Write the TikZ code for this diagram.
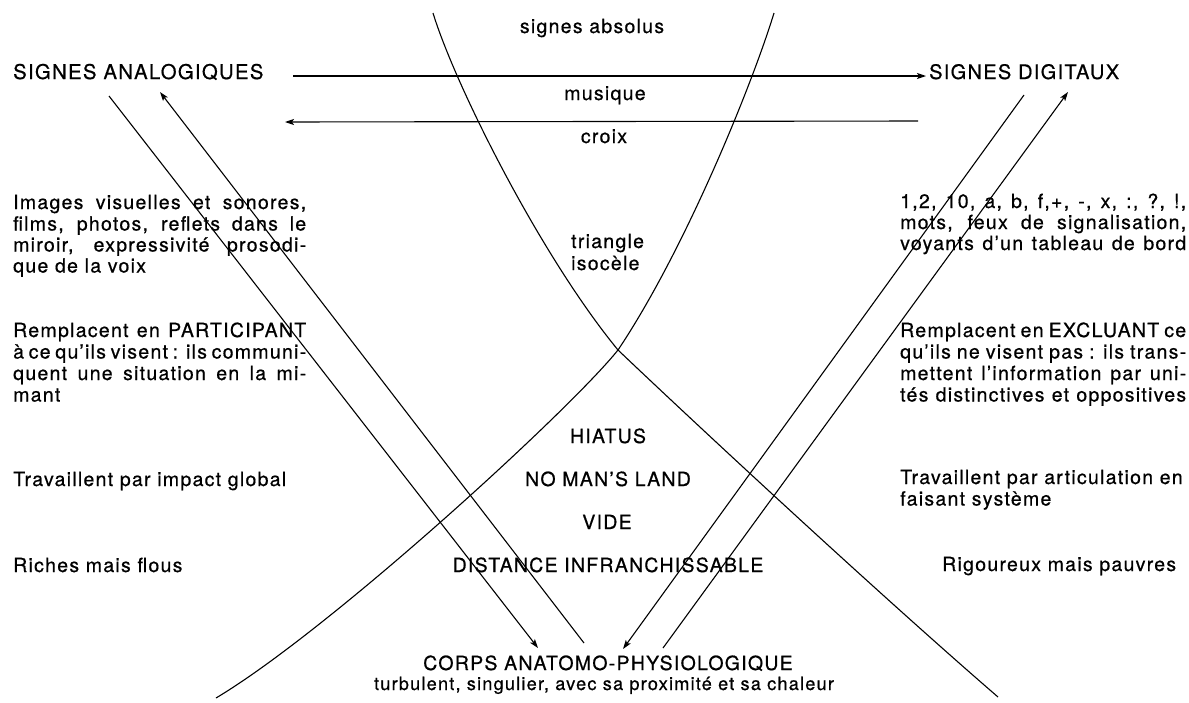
\documentclass[tikz,border=0pt]{standalone}
\usepackage{fontspec}
\setmainfont[LetterSpace=6.5,FakeBold=0.6]{TeX Gyre Heros}
\usetikzlibrary{arrows.meta}
\newcommand\jleft[1]{\makebox[293pt][s]{#1}}
\newcommand\jright[1]{\makebox[286pt][s]{#1}}
\begin{document}
\begin{tikzpicture}[x=1pt,y=-1pt,
  txt/.style={inner sep=0pt, anchor=base west, font=\fontsize{19.5}{21.5}\selectfont},
  ctxt/.style={txt, anchor=base},
  ln/.style={line width=1.1pt},
  arr/.style={ln, -{Stealth[length=9pt,width=6pt,inset=2pt]}}]
\useasboundingbox (0,0) rectangle (1189,702);

% ---- central texts
\node[ctxt] (abs) at (592,33) {signes absolus};
\node[ctxt] (mus) at (605,100) {musique};
\node[ctxt] (cro) at (604,143) {croix};
\node[txt] (tri) at (571,248) {triangle};
\node[txt] (iso) at (571,270) {isocèle};
\node[ctxt] (hia) at (608,443) {HIATUS};
\node[ctxt] (nml) at (608,486) {NO MAN'S LAND};
\node[ctxt] (vid) at (607,529) {VIDE};
\node[ctxt] (dis) at (608,572) {DISTANCE INFRANCHISSABLE};
\node[ctxt] (corps) at (608,670) {CORPS ANATOMO-PHYSIOLOGIQUE};
\node[ctxt, font=\fontsize{18.2}{20}\selectfont] (turb) at (604,690) {turbulent, singulier, avec sa proximité et sa chaleur};

% ---- headings
\node[txt, font=\fontsize{20.3}{22}\selectfont] (ana) at (13,79) {SIGNES ANALOGIQUES};
\node[txt, font=\fontsize{20}{22}\selectfont] (dig) at (929,79) {SIGNES DIGITAUX};

% ---- left column
\node[txt] (l1) at (13,209) {\jleft{Images visuelles et sonores,}};
\node[txt] (l2) at (13,230.5) {\jleft{films, photos, reflets dans le}};
\node[txt] (l3) at (13,251.5) {\jleft{miroir, expressivité prosodi-}};
\node[txt] (l4) at (13,272.5) {que de la voix};
\node[txt] (l5) at (13,337) {\jleft{Remplacent en PARTICIPANT}};
\node[txt] (l6) at (13,358.5) {\jleft{à ce qu'ils visent : ils communi-}};
\node[txt] (l7) at (13,380) {\jleft{quent une situation en la mi-}};
\node[txt] (l8) at (13,401.5) {mant};
\node[txt] (l9) at (13,486) {Travaillent par impact global};
\node[txt] (l10) at (13,572) {Riches mais flous};

% ---- right column
\node[txt] (r1) at (900,208) {\jright{1,2, 10, a, b, f,+, -, x, :, ?, !,}};
\node[txt] (r2) at (900,229) {\jright{mots, feux de signalisation,}};
\node[txt] (r3) at (900,250) {\jright{voyants d'un tableau de bord}};
\node[txt] (r4) at (900,337) {\jright{Remplacent en EXCLUANT ce}};
\node[txt] (r5) at (900,358.5) {\jright{qu'ils ne visent pas : ils trans-}};
\node[txt] (r6) at (900,380) {\jright{mettent l'information par uni-}};
\node[txt] (r7) at (900,401.5) {\jright{tés distinctives et oppositives}};
\node[txt] (r8) at (900,484) {Travaillent par articulation en};
\node[txt] (r9) at (900,505.5) {faisant système};
\node[txt] (r10) at (942,571) {Rigoureux mais pauvres};

% ---- connector ends
\coordinate (h1s) at (293,76);
\coordinate (h1e) at (926,76);
\coordinate (h2s) at (918,121);
\coordinate (h2e) at (285,122);
\coordinate (as) at (109,96);
\coordinate (ae) at (538,648);
\coordinate (bs) at (584,643);
\coordinate (be) at (160,92);
\coordinate (cs) at (1024,95);
\coordinate (ce) at (623,649);
\coordinate (ds) at (663,648);
\coordinate (de) at (1068,92);

\draw[arr] (h1s) -- (h1e);
\draw[arr] (h2s) -- (h2e);
\draw[arr] (as) -- (ae);
\draw[arr] (bs) -- (be);
\draw[arr] (cs) -- (ce);
\draw[arr] (ds) -- (de);

% ---- crossing curves
\coordinate (x0) at (618,350);
\draw[ln] (433,13) .. controls (455,85) and (540,255) .. (x0)
          .. controls (700,428) and (880,595) .. (998,697);
\draw[ln] (774,13) .. controls (752,85) and (685,250) .. (x0)
          .. controls (570,410) and (330,630) .. (216,698);
\end{tikzpicture}
\end{document}
